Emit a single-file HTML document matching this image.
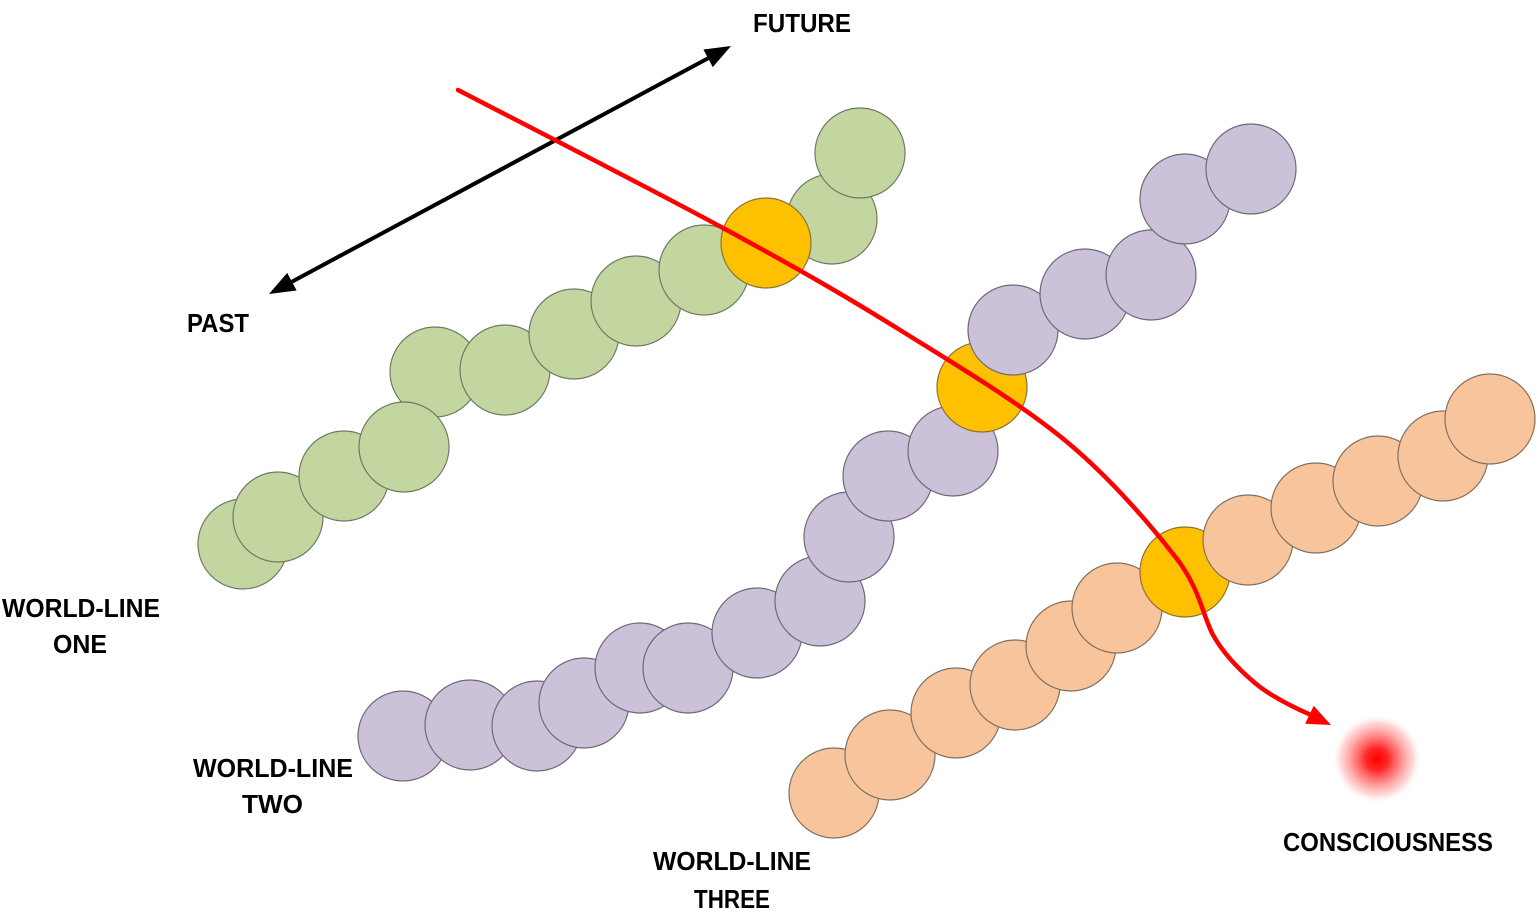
<!DOCTYPE html>
<html>
<head>
<meta charset="utf-8">
<style>
  html,body{margin:0;padding:0;background:#fff;}
  svg{display:block;}
  text{font-family:"Liberation Sans",Arial,sans-serif;font-weight:bold;font-size:26px;fill:#000;}
</style>
</head>
<body>
<svg width="1536" height="916" viewBox="0 0 1536 916" xmlns="http://www.w3.org/2000/svg">
  <defs>
    <radialGradient id="glow" cx="50%" cy="50%" r="50%">
      <stop offset="0%" stop-color="#ff0000" stop-opacity="1"/>
      <stop offset="25%" stop-color="#ff1010" stop-opacity="0.9"/>
      <stop offset="55%" stop-color="#ff4848" stop-opacity="0.6"/>
      <stop offset="80%" stop-color="#ff8a8a" stop-opacity="0.35"/>
      <stop offset="100%" stop-color="#ffffff" stop-opacity="0"/>
    </radialGradient>
  </defs>
  <rect width="1536" height="916" fill="#fff"/>

  <!-- black double arrow -->
  <line x1="291.9" y1="281.7" x2="708.1" y2="58.3" stroke="#000" stroke-width="4"/>
  <polygon points="731,46 712.8,67.1 703.4,49.5" fill="#000"/>
  <polygon points="269,294 296.6,290.5 287.2,272.9" fill="#000"/>

  <!-- green world-line -->
  <g fill="#c4d6a0" stroke="#6e7a62" stroke-width="1.2">
    <circle cx="243" cy="544" r="45"/>
    <circle cx="278" cy="517" r="45"/>
    <circle cx="344" cy="476" r="45"/>
    <circle cx="435" cy="372" r="45"/>
    <circle cx="404" cy="447" r="45"/>
    <circle cx="505" cy="370" r="45"/>
    <circle cx="574" cy="334" r="45"/>
    <circle cx="636" cy="301" r="45"/>
    <circle cx="704" cy="270" r="45"/>
    <circle cx="832" cy="219" r="45"/>
    <circle cx="766" cy="243" r="45" fill="#ffc000" stroke="#8a7430"/>
    <circle cx="860" cy="153" r="45"/>
  </g>

  <!-- purple world-line -->
  <g fill="#cbc2da" stroke="#6e6878" stroke-width="1.2">
    <circle cx="403" cy="736" r="45"/>
    <circle cx="470" cy="725" r="45"/>
    <circle cx="537" cy="726" r="45"/>
    <circle cx="584" cy="703" r="45"/>
    <circle cx="640" cy="668" r="45"/>
    <circle cx="688" cy="668" r="45"/>
    <circle cx="757" cy="633" r="45"/>
    <circle cx="820" cy="601" r="45"/>
    <circle cx="849" cy="537" r="45"/>
    <circle cx="888" cy="476" r="45"/>
    <circle cx="953" cy="451" r="45"/>
    <circle cx="982" cy="387" r="45" fill="#ffc000" stroke="#8a7430"/>
    <circle cx="1013" cy="330" r="45"/>
    <circle cx="1085" cy="294" r="45"/>
    <circle cx="1151" cy="275" r="45"/>
    <circle cx="1185" cy="199" r="45"/>
    <circle cx="1251" cy="169" r="45"/>
  </g>

  <!-- peach world-line -->
  <g fill="#f8c49b" stroke="#80705f" stroke-width="1.2">
    <circle cx="834" cy="793" r="45"/>
    <circle cx="890" cy="755" r="45"/>
    <circle cx="956" cy="713" r="45"/>
    <circle cx="1015" cy="685" r="45"/>
    <circle cx="1071" cy="646" r="45"/>
    <circle cx="1117" cy="608" r="45"/>
    <circle cx="1185" cy="572" r="45" fill="#ffc000" stroke="#8a7430"/>
    <circle cx="1248" cy="540" r="45"/>
    <circle cx="1316" cy="508" r="45"/>
    <circle cx="1378" cy="481" r="45"/>
    <circle cx="1443" cy="456" r="45"/>
    <circle cx="1490" cy="419" r="45"/>
  </g>

  <!-- red consciousness path -->
  <path fill="none" stroke="#ff0000" stroke-width="4.5" stroke-linecap="round"
    d="M458,90 C502.2,113 649.3,188 723,228 C796.7,268 842.7,294.3 900,330 C957.3,365.7 1020.3,403.2 1067,442 C1113.7,480.8 1155.8,531.2 1180,563 C1200,592 1202,612 1212,633 C1222,652 1238.7,669.3 1255,683 C1271.3,696.7 1295,708 1311,715"/>
  <polygon points="1331,725 1305.1,723.7 1313.7,705.7" fill="#ff0000"/>

  <!-- consciousness glow -->
  <circle cx="1377" cy="759" r="45" fill="url(#glow)"/>

  <!-- labels -->
  <text x="753" y="32" textLength="98" lengthAdjust="spacingAndGlyphs">FUTURE</text>
  <text x="187" y="332" textLength="62" lengthAdjust="spacingAndGlyphs">PAST</text>
  <text x="2" y="617" textLength="158" lengthAdjust="spacingAndGlyphs">WORLD-LINE</text>
  <text x="53" y="653" textLength="54" lengthAdjust="spacingAndGlyphs">ONE</text>
  <text x="193" y="777" textLength="160" lengthAdjust="spacingAndGlyphs">WORLD-LINE</text>
  <text x="242" y="813" textLength="61" lengthAdjust="spacingAndGlyphs">TWO</text>
  <text x="653" y="870" textLength="158" lengthAdjust="spacingAndGlyphs">WORLD-LINE</text>
  <text x="694" y="908" textLength="76" lengthAdjust="spacingAndGlyphs">THREE</text>
  <text x="1283" y="851" textLength="210" lengthAdjust="spacingAndGlyphs">CONSCIOUSNESS</text>
</svg>
</body>
</html>
